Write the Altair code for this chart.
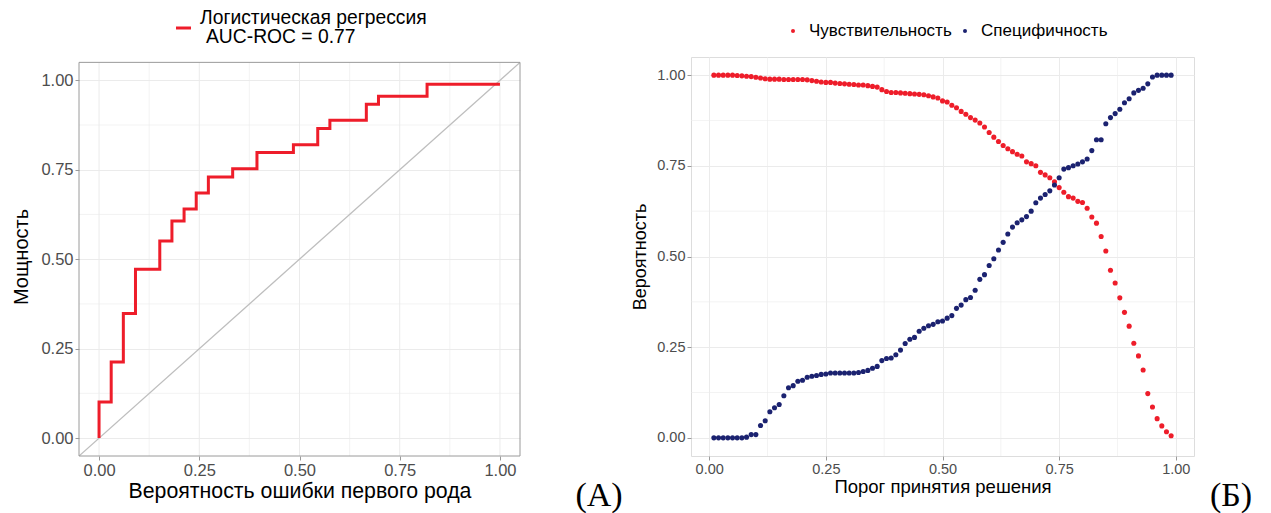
import altair as alt
import pandas as pd

# ---------------- data ----------------
# ROC curve corners (step-before interpolation)
roc_fpr = [0.0, 0.0303, 0.0606, 0.0909, 0.1515, 0.1818, 0.2121, 0.2424, 0.2727,
           0.3333, 0.3939, 0.4848, 0.5455, 0.5758, 0.6667, 0.6970, 0.8182, 1.0]
roc_tpr = [0.0, 0.101, 0.213, 0.348, 0.472, 0.551, 0.607, 0.640, 0.685,
           0.730, 0.753, 0.798, 0.820, 0.865, 0.888, 0.933, 0.955, 0.989]

diag_vals = [-0.05, 1.05]
minor_vals = [0.125, 0.375, 0.625, 0.875]
tick_vals = [0.0, 0.25, 0.5, 0.75, 1.0]
panel_lo, panel_hi = -0.05, 1.05

thresholds = [round(i / 100, 2) for i in range(1, 100)]
sensitivity = [
    1.000, 1.000, 1.000, 1.000, 1.000, 0.999, 0.998, 0.997, 0.996, 0.994,  # .01-.10
    0.992, 0.990, 0.989, 0.989, 0.989, 0.988, 0.988, 0.988, 0.988, 0.988,  # .11-.20
    0.987, 0.985, 0.983, 0.981, 0.980, 0.980, 0.978, 0.977, 0.976, 0.975,  # .21-.30
    0.974, 0.973, 0.973, 0.971, 0.969, 0.967, 0.960, 0.955, 0.952, 0.952,  # .31-.40
    0.951, 0.950, 0.949, 0.948, 0.947, 0.946, 0.943, 0.940, 0.937, 0.929,  # .41-.50
    0.926, 0.917, 0.910, 0.900, 0.892, 0.883, 0.876, 0.868, 0.857, 0.842,  # .51-.60
    0.829, 0.817, 0.806, 0.797, 0.789, 0.782, 0.777, 0.761, 0.756, 0.750,  # .61-.70
    0.732, 0.725, 0.717, 0.706, 0.690, 0.677, 0.665, 0.661, 0.652, 0.649,  # .71-.80
    0.633, 0.609, 0.592, 0.555, 0.515, 0.462, 0.427, 0.386, 0.346, 0.308,  # .81-.90
    0.261, 0.226, 0.187, 0.122, 0.085, 0.053, 0.033, 0.017, 0.006,         # .91-.99
]
specificity = [
    0.000, 0.000, 0.000, 0.000, 0.000, 0.000, 0.000, 0.002, 0.009, 0.009,  # .01-.10
    0.034, 0.047, 0.072, 0.083, 0.092, 0.116, 0.138, 0.144, 0.156, 0.159,  # .11-.20
    0.167, 0.170, 0.172, 0.175, 0.176, 0.179, 0.179, 0.179, 0.179, 0.179,  # .21-.30
    0.179, 0.180, 0.183, 0.186, 0.192, 0.197, 0.213, 0.219, 0.220, 0.229,  # .31-.40
    0.242, 0.260, 0.272, 0.277, 0.294, 0.302, 0.309, 0.313, 0.320, 0.322,  # .41-.50
    0.330, 0.337, 0.357, 0.366, 0.381, 0.387, 0.407, 0.437, 0.450, 0.475,  # .51-.60
    0.494, 0.518, 0.539, 0.562, 0.581, 0.593, 0.601, 0.610, 0.625, 0.648,  # .61-.70
    0.661, 0.671, 0.681, 0.697, 0.717, 0.741, 0.745, 0.750, 0.755, 0.761,  # .71-.80
    0.769, 0.792, 0.822, 0.822, 0.866, 0.883, 0.894, 0.906, 0.924, 0.935,  # .81-.90
    0.951, 0.958, 0.964, 0.976, 0.995, 1.000, 1.000, 1.000, 1.000,         # .91-.99
]
series_names = ["Чувствительность", "Специфичность"]
series_colors = ["#EE1D2A", "#1B2270"]

# ---------------- styling ----------------
FONT = "Liberation Sans"
RED = "#EE1D2A"
GRID = "#EBEBEB"
BORDER = "#9A9A9A"
LABEL = "#4D4D4D"

roc_df = pd.DataFrame({"fpr": roc_fpr, "tpr": roc_tpr, "i": list(range(len(roc_fpr)))})
diag_df = pd.DataFrame({"v": diag_vals})
minor_df = pd.DataFrame({"v": minor_vals, "lo": panel_lo, "hi": panel_hi})
major_df = pd.DataFrame({"v": tick_vals, "lo": panel_lo, "hi": panel_hi})
frame_df = pd.DataFrame({"lo": [panel_lo], "hi": [panel_hi]})
one = pd.DataFrame({"a": [0]})

long_rows = []
for t, s, p in zip(thresholds, sensitivity, specificity):
    long_rows.append({"t": t, "val": s, "series": series_names[0]})
    long_rows.append({"t": t, "val": p, "series": series_names[1]})
curve_df = pd.DataFrame(long_rows)


def axis(title_size, label_size, title_pad, grid=True, **kw):
    return alt.Axis(values=tick_vals, format=".2f", grid=grid, gridColor=GRID, gridWidth=1,
                    domain=False, tickColor=BORDER, tickSize=4, tickWidth=1,
                    labelFont=FONT, labelFontSize=label_size, labelColor=LABEL, labelPadding=2,
                    titleFont=FONT, titleFontSize=title_size, titleColor="black",
                    titleFontWeight="normal", titlePadding=title_pad, **kw)


def extent_v(xpx):
    # white marker that fixes the horizontal layout bounds of a panel
    return alt.Chart(one).mark_rule(color="white", strokeWidth=1).encode(
        x=alt.value(xpx), y=alt.value(0), y2=alt.value(10))


def extent_h(ypx):
    # white marker that fixes the vertical layout bounds of a panel
    return alt.Chart(one).mark_rule(color="white", strokeWidth=1).encode(
        y=alt.value(ypx), x=alt.value(0), x2=alt.value(10))


# ---------------- left panel (ROC) ----------------
# plot area is 5px taller than the visible frame, so the frame starts 5px lower
LW, LH = 441, 399
lx = alt.Scale(domain=[-0.05, 1.05], nice=False, zero=False)
ly = alt.Scale(domain=[-0.05, 1.065], nice=False, zero=False)

left_base = alt.Chart(roc_df).mark_line(color=RED, strokeWidth=3, interpolate="step-before").encode(
    x=alt.X("fpr:Q", scale=lx, axis=axis(21.3, 16.5, 2, grid=False, title="Вероятность ошибки первого рода")),
    y=alt.Y("tpr:Q", scale=ly, axis=axis(20, 16.5, 9, title="Мощность")),
    order="i:Q",
)
left_major_x = alt.Chart(major_df).mark_rule(color=GRID, strokeWidth=1).encode(
    x=alt.X("v:Q", scale=lx), y=alt.Y("lo:Q", scale=ly), y2="hi:Q")
left_minor_x = alt.Chart(minor_df).mark_rule(color=GRID, strokeWidth=0.6).encode(
    x=alt.X("v:Q", scale=lx), y=alt.Y("lo:Q", scale=ly), y2="hi:Q")
left_minor_y = alt.Chart(minor_df).mark_rule(color=GRID, strokeWidth=0.6).encode(
    y=alt.Y("v:Q", scale=ly), x=alt.X("lo:Q", scale=lx), x2="hi:Q")
left_top_cover = alt.Chart(frame_df).mark_rect(color="white").encode(
    x=alt.X("lo:Q", scale=lx), x2="hi:Q", y=alt.Y("hi:Q", scale=ly), y2=alt.value(0))
left_diag = alt.Chart(diag_df).mark_line(color="#BEBEBE", strokeWidth=1.3, clip=True).encode(
    x=alt.X("v:Q", scale=lx), y=alt.Y("v:Q", scale=ly)
)
left_frame = alt.Chart(frame_df).mark_rect(filled=False, stroke=BORDER, strokeWidth=1).encode(
    x=alt.X("lo:Q", scale=lx), x2="hi:Q", y=alt.Y("lo:Q", scale=ly), y2="hi:Q")
leg_line = alt.Chart(one).mark_rule(color=RED, strokeWidth=3).encode(
    x=alt.value(97), x2=alt.value(112), y=alt.value(-29)
)
leg_t1 = alt.Chart(one).mark_text(text="Логистическая регрессия", align="left", baseline="middle",
                                  font=FONT, fontSize=19.3, color="black").encode(
    x=alt.value(121), y=alt.value(-39))
leg_t2 = alt.Chart(one).mark_text(text="AUC-ROC = 0.77", align="left", baseline="middle",
                                  font=FONT, fontSize=19.3, color="black").encode(
    x=alt.value(127), y=alt.value(-20))

left = alt.layer(
    left_top_cover, left_major_x, left_minor_x, left_minor_y, left_diag, left_base, left_frame,
    leg_line, leg_t1, leg_t2, extent_v(-78.5), extent_v(465), extent_h(-55.5),
).properties(width=LW, height=LH, view=alt.ViewBackground(strokeOpacity=0))

# ---------------- right panel (sensitivity / specificity) ----------------
RW, RH = 503, 399
rx = alt.Scale(domain=[-0.039, 1.039], nice=False, zero=False)
ry = alt.Scale(domain=[-0.05, 1.05], nice=False, zero=False)

right_minor_x = alt.Chart(minor_df).mark_rule(color=GRID, strokeWidth=0.6).encode(x=alt.X("v:Q", scale=rx))
right_minor_y = alt.Chart(minor_df).mark_rule(color=GRID, strokeWidth=0.6).encode(y=alt.Y("v:Q", scale=ry))
right_pts = alt.Chart(curve_df).mark_circle(size=26, opacity=1).encode(
    x=alt.X("t:Q", scale=rx, axis=axis(18.5, 14.5, 2, title="Порог принятия решения")),
    y=alt.Y("val:Q", scale=ry, axis=axis(18, 14.5, 7, title="Вероятность")),
    color=alt.Color("series:N", scale=alt.Scale(domain=series_names, range=series_colors), legend=None),
)
leg_d1 = alt.Chart(one).mark_circle(size=16, opacity=1, color=series_colors[0]).encode(
    x=alt.value(102), y=alt.value(-26))
leg_s1 = alt.Chart(one).mark_text(text=series_names[0], align="left", baseline="middle",
                                  font=FONT, fontSize=17, color="black").encode(
    x=alt.value(118), y=alt.value(-26))
leg_d2 = alt.Chart(one).mark_circle(size=16, opacity=1, color=series_colors[1]).encode(
    x=alt.value(274), y=alt.value(-26))
leg_s2 = alt.Chart(one).mark_text(text=series_names[1], align="left", baseline="middle",
                                  font=FONT, fontSize=17, color="black").encode(
    x=alt.value(290), y=alt.value(-26))
lab_a = alt.Chart(one).mark_text(text="(A)", align="center", baseline="alphabetic",
                                 font="Liberation Serif", fontSize=34, color="black").encode(
    x=alt.value(-92), y=alt.value(449))
lab_b = alt.Chart(one).mark_text(text="(Б)", align="center", baseline="alphabetic",
                                 font="Liberation Serif", fontSize=34, color="black").encode(
    x=alt.value(540), y=alt.value(449))

right = alt.layer(
    right_minor_x, right_minor_y, right_pts, leg_d1, leg_s1, leg_d2, leg_s2, lab_a, lab_b,
    extent_v(-120), extent_h(-55.5),
).properties(width=RW, height=RH)

chart = alt.hconcat(left, right, spacing=25).properties(
    padding={"left": 0, "top": 0, "right": 5, "bottom": 5}
).configure_view(stroke=BORDER, strokeWidth=1).configure(background="white")

chart.save("out.html", embed_options={"renderer": "svg", "actions": False})
